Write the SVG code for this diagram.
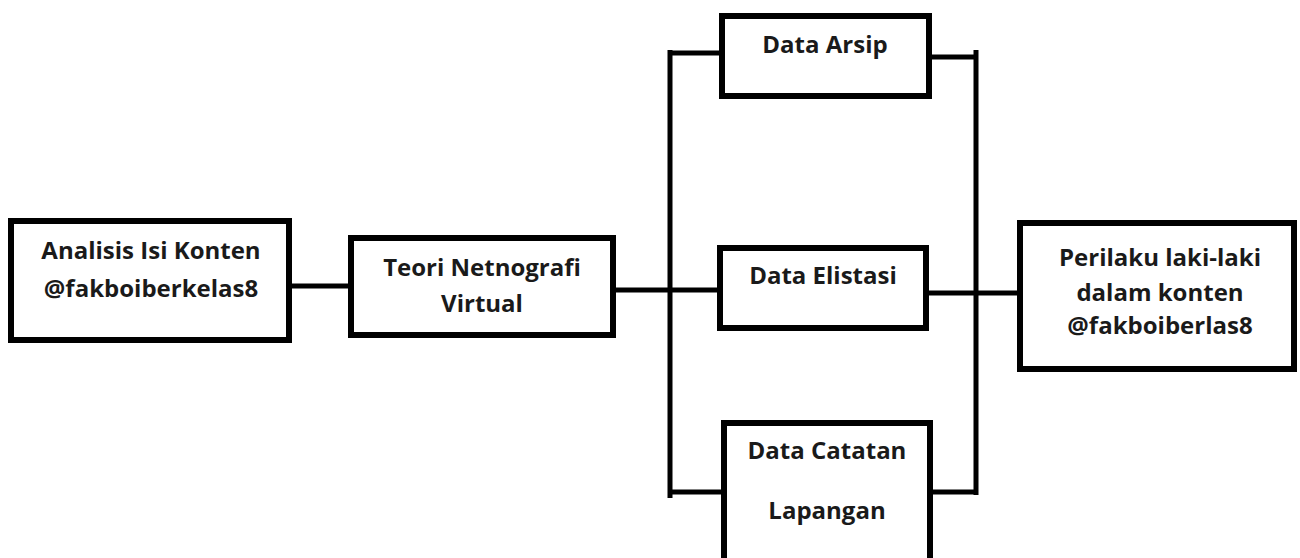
<svg xmlns="http://www.w3.org/2000/svg" width="1300" height="558" viewBox="0 0 1300 558">
<style>
.box{fill:#fff;stroke:#000;stroke-width:6}
.ln{stroke:#000;stroke-width:5;fill:none;stroke-linecap:butt}
.t{font-family:"Open Sans","Liberation Sans",sans-serif;font-weight:700;font-size:24px;fill:#1a1a1a;text-anchor:middle}
</style>
<rect width="1300" height="558" fill="#fff"/>
<g id="connectors">
<line class="ln" x1="292" y1="286" x2="348" y2="286"/>
<line class="ln" x1="615" y1="290" x2="719" y2="290"/>
<line class="ln" x1="670" y1="50" x2="670" y2="498"/>
<line class="ln" x1="668" y1="53" x2="720" y2="53"/>
<line class="ln" x1="668" y1="492" x2="722" y2="492"/>
<line class="ln" x1="932" y1="57" x2="977" y2="57"/>
<line class="ln" x1="976" y1="50" x2="976" y2="495"/>
<line class="ln" x1="929" y1="293" x2="1018" y2="293"/>
<line class="ln" x1="933" y1="492" x2="978" y2="492"/>
</g>
<g id="n1">
<rect class="box" x="11" y="221" width="278" height="119"/>
<text class="t" x="151" y="259">Analisis Isi Konten</text>
<text class="t" x="151" y="297">@fakboiberkelas8</text>
</g>
<g id="n2">
<rect class="box" x="351" y="238" width="262" height="97"/>
<text class="t" x="482" y="276">Teori Netnografi</text>
<text class="t" x="482" y="312">Virtual</text>
</g>
<g id="n3">
<rect class="box" x="722" y="16" width="207" height="80"/>
<text class="t" x="825" y="53">Data Arsip</text>
</g>
<g id="n4">
<rect class="box" x="720" y="248" width="206" height="80"/>
<text class="t" x="823" y="284">Data Elistasi</text>
</g>
<g id="n5">
<rect class="box" x="724" y="423" width="206" height="140"/>
<text class="t" x="827" y="459">Data Catatan</text>
<text class="t" x="827" y="519">Lapangan</text>
</g>
<g id="n6">
<rect class="box" x="1020" y="223" width="274" height="146"/>
<text class="t" x="1160" y="266">Perilaku laki-laki</text>
<text class="t" x="1160" y="301">dalam konten</text>
<text class="t" x="1160" y="334">@fakboiberlas8</text>
</g>
</svg>
